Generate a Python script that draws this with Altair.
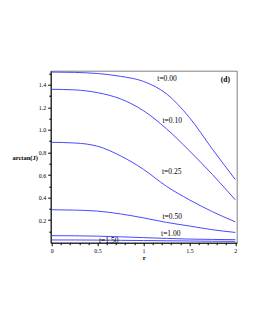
import altair as alt
import pandas as pd

r_vals = [0.0, 0.25, 0.5, 0.75, 1.0, 1.25, 1.5, 1.75, 2.0]
t_names = ["t=0.00", "t=0.10", "t=0.25", "t=0.50", "t=1.00", "t=1.50"]
v_t000 = [1.513, 1.510, 1.500, 1.475, 1.430, 1.320, 1.110, 0.830, 0.560]
v_t010 = [1.360, 1.355, 1.330, 1.275, 1.170, 1.010, 0.815, 0.605, 0.380]
v_t025 = [0.890, 0.884, 0.855, 0.770, 0.650, 0.500, 0.380, 0.275, 0.185]
v_t050 = [0.292, 0.289, 0.280, 0.255, 0.220, 0.180, 0.148, 0.115, 0.091]
v_t100 = [0.062, 0.061, 0.058, 0.052, 0.045, 0.038, 0.032, 0.029, 0.027]
v_t150 = [0.024, 0.024, 0.023, 0.021, 0.019, 0.017, 0.015, 0.013, 0.012]
series = [v_t000, v_t010, v_t025, v_t050, v_t100, v_t150]

label_text = ["t=0.00", "t=0.10", "t=0.25", "t=0.50", "t=1.00", "t=1.50"]
label_r = [1.256, 1.313, 1.307, 1.313, 1.297, 0.621]
label_v = [1.449, 1.08, 0.631, 0.224, 0.077, 0.018]
panel_text = ["(d)"]
panel_r = [1.891]
panel_v = [1.44]

x_major_ticks = [0.0, 0.5, 1.0, 1.5, 2.0]
x_minor_ticks = [0.1, 0.2, 0.3, 0.4, 0.6, 0.7, 0.8, 0.9,
                 1.1, 1.2, 1.3, 1.4, 1.6, 1.7, 1.8, 1.9]
y_major_ticks = [0.2, 0.4, 0.6, 0.8, 1.0, 1.2, 1.4]
y_minor_ticks = [0.1, 0.3, 0.5, 0.7, 0.9, 1.1, 1.3, 1.5]

rows = []
for name, vals in zip(t_names, series):
    for r, v in zip(r_vals, vals):
        rows.append({"t": name, "r": r, "v": v})
df = pd.DataFrame(rows)
lab = pd.DataFrame({"txt": label_text, "r": label_r, "v": label_v})
plab = pd.DataFrame({"txt": panel_text, "r": panel_r, "v": panel_v})

FONT = "Liberation Serif"

xscale = alt.Scale(domain=[-0.011, 2.015], nice=False, zero=False)
yscale = alt.Scale(domain=[0, 1.525], nice=False, zero=False)

common = dict(grid=False, domainColor="black", tickColor="black", labelColor="black",
              labelFont=FONT, labelFontSize=6, labelPadding=2, labelOverlap=False,
              labelFlush=False, titleFont=FONT, titleColor="black")

xaxis = alt.Axis(values=x_major_ticks, title="r", tickSize=3, format="~g",
                 titleFontSize=7, titleFontWeight="bold", titleY=15,
                 titleBaseline="middle", orient="bottom", **common)
yaxis = alt.Axis(values=y_major_ticks, title="arctan(J)", tickSize=3, format=".1f",
                 titleFontSize=6.5, titleFontWeight="bold", titleAngle=0,
                 titleX=-26, titleY=87, titleAlign="center", titleBaseline="middle",
                 orient="left", **common)
xaxis_minor = alt.Axis(values=x_minor_ticks, title=None, labels=False, domain=False,
                       tickSize=2, tickColor="black", grid=False, orient="bottom")
yaxis_minor = alt.Axis(values=y_minor_ticks, title=None, labels=False, domain=False,
                       tickSize=2, tickColor="black", grid=False, orient="left")

lines = alt.Chart(df).mark_line(color="#4848ff", strokeWidth=1, interpolate="monotone").encode(
    x=alt.X("r:Q", scale=xscale, axis=xaxis),
    y=alt.Y("v:Q", scale=yscale, axis=yaxis),
    detail="t:N",
)

texts = alt.Chart(lab).mark_text(font=FONT, fontSize=7.5, color="black",
                                  align="center", baseline="middle").encode(
    x=alt.X("r:Q", scale=xscale, axis=xaxis_minor),
    y=alt.Y("v:Q", scale=yscale, axis=yaxis_minor),
    text="txt:N",
)
ptext = alt.Chart(plab).mark_text(font=FONT, fontSize=7.5, fontWeight="bold", color="black",
                                   align="center", baseline="middle").encode(
    x=alt.X("r:Q", scale=xscale, axis=None),
    y=alt.Y("v:Q", scale=yscale, axis=None),
    text="txt:N",
)

chart = alt.layer(lines, texts, ptext).resolve_axis(
    x="independent", y="independent"
).properties(
    width=186, height=172, autosize="none",
    padding={"left": 42.7, "top": 62.7, "right": 10, "bottom": 70},
).configure_view(stroke="#808080", strokeWidth=1)

chart.save("out.html", embed_options={"renderer": "svg", "actions": False})
